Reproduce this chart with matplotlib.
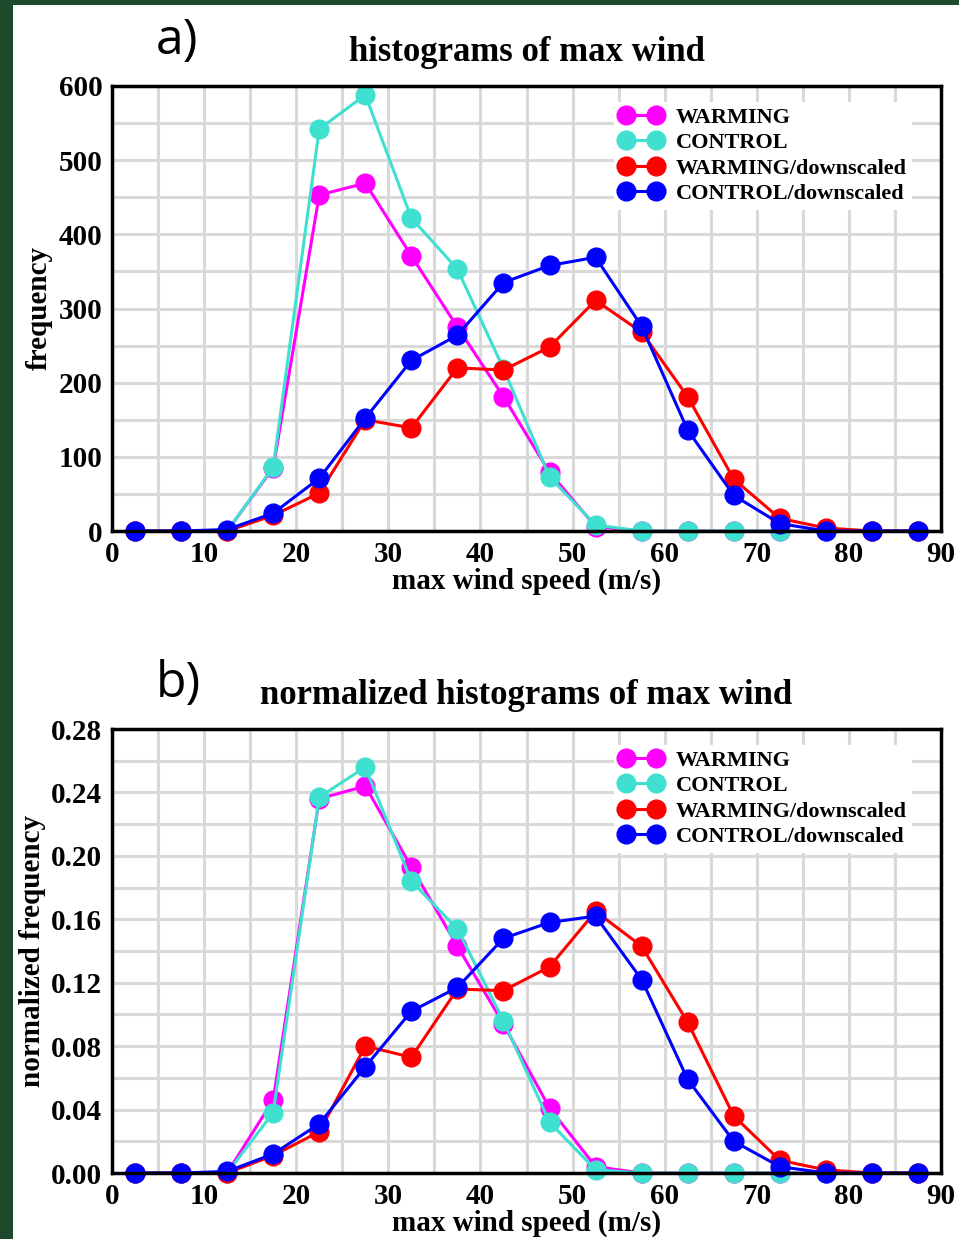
import matplotlib.pyplot as plt
import matplotlib.patches as mpatches
from matplotlib.ticker import MultipleLocator, FormatStrFormatter

# bin centres of the wind speed histograms (m/s)
wind = [2.5, 7.5, 12.5, 17.5, 22.5, 27.5, 32.5, 37.5, 42.5,
        47.5, 52.5, 57.5, 62.5, 67.5, 72.5, 77.5, 82.5, 87.5]

labels = ['WARMING', 'CONTROL', 'WARMING/downscaled', 'CONTROL/downscaled']
colors = ['#ff00ff', '#40e0d0', '#ff0000', '#0000ff']

# a) counts
warm_a = [0, 0, 0, 85, 453, 469, 371, 275, 181, 79, 6, 0, 0, 0, 0, 0, 0, 0]
ctrl_a = [0, 0, 0, 86, 542, 588, 422, 353, 219, 73, 8, 0, 0, 0, 0, 0, 0, 0]
warm_ds_a = [0, 0, 0, 21, 51, 150, 139, 220, 217, 248, 311, 268, 181, 70, 17, 4, 0, 0]
ctrl_ds_a = [0, 0, 2, 24, 71, 152, 230, 264, 335, 358, 369, 276, 136, 48, 10, 0, 0, 0]

# b) normalized
warm_b = [0, 0, 0, 0.046, 0.236, 0.244, 0.193, 0.143, 0.094, 0.041, 0.004, 0, 0, 0, 0, 0, 0, 0]
ctrl_b = [0, 0, 0, 0.038, 0.237, 0.256, 0.184, 0.154, 0.096, 0.032, 0.002, 0, 0, 0, 0, 0, 0, 0]
warm_ds_b = [0, 0, 0, 0.011, 0.026, 0.080, 0.073, 0.116, 0.115, 0.130, 0.165, 0.143, 0.095, 0.036, 0.008, 0.002, 0, 0]
ctrl_ds_b = [0, 0, 0.001, 0.012, 0.031, 0.067, 0.102, 0.117, 0.148, 0.158, 0.162, 0.122, 0.059, 0.020, 0.004, 0, 0, 0]

serif = 'Liberation Serif'

fig = plt.figure(figsize=(9.59, 12.39), dpi=100, facecolor='#1d4a2a')
fig.patches.append(mpatches.Rectangle((13 / 959, 0), 1, 1 - 5 / 1239, transform=fig.transFigure,
                                      facecolor='white', edgecolor='none', zorder=-10))

ax1 = fig.add_axes([112 / 959, 1 - 531 / 1239, 829 / 959, 445 / 1239])
ax2 = fig.add_axes([112 / 959, 1 - 1173 / 1239, 829 / 959, 444 / 1239])


def draw(ax, series, ymax, ymajor, yminor, fmt, ylabel, title, tag):
    for ys, c, lab in zip(series, colors, labels):
        ax.plot(wind, ys, '-o', color=c, lw=2.2, ms=13.5, label=lab, clip_on=False, zorder=3)
    ax.set_xlim(0, 90)
    ax.set_ylim(0, ymax)
    ax.xaxis.set_major_locator(MultipleLocator(10))
    ax.xaxis.set_minor_locator(MultipleLocator(5))
    ax.yaxis.set_major_locator(MultipleLocator(ymajor))
    ax.yaxis.set_minor_locator(MultipleLocator(yminor))
    ax.yaxis.set_major_formatter(FormatStrFormatter(fmt))
    ax.grid(which='both', color='#d9d9d9', lw=2.2, zorder=0)
    ax.set_axisbelow(True)
    ax.tick_params(which='both', direction='in', length=0)
    ax.tick_params(axis='x', pad=7)
    ax.tick_params(axis='y', pad=7)
    for lbl in ax.get_xticklabels() + ax.get_yticklabels():
        lbl.set_fontfamily(serif)
        lbl.set_fontweight('bold')
        lbl.set_fontsize(21)
    for sp in ax.spines.values():
        sp.set_linewidth(2.5)
        sp.set_zorder(4)
    ax.set_xlabel('max wind speed (m/s)', family=serif, weight='bold', fontsize=21, labelpad=0)
    ax.set_ylabel(ylabel, family=serif, weight='bold', fontsize=21, labelpad=4)
    ax.set_title(title, family=serif, weight='bold', fontsize=25, pad=18)
    ax.text(0.053, 1.045, tag, transform=ax.transAxes, family='Open Sans', fontsize=36,
            ha='left', va='bottom')
    leg = ax.legend(loc='upper right', bbox_to_anchor=(0.979, 0.99), frameon=True,
                    prop={'family': serif, 'weight': 'bold', 'size': 16},
                    handlelength=1.95, handletextpad=0.6, labelspacing=0.22,
                    borderpad=0.25, numpoints=2)
    leg.get_frame().set_edgecolor('none')
    leg.get_frame().set_alpha(1)
    leg.set_zorder(5)


draw(ax1, [warm_a, ctrl_a, warm_ds_a, ctrl_ds_a], 600, 100, 50, '%d',
     'frequency', 'histograms of max wind', 'a)')
draw(ax2, [warm_b, ctrl_b, warm_ds_b, ctrl_ds_b], 0.28, 0.04, 0.02, '%.2f',
     'normalized frequency', 'normalized histograms of max wind', 'b)')

fig.savefig('out.png', dpi=100, facecolor=fig.get_facecolor())
